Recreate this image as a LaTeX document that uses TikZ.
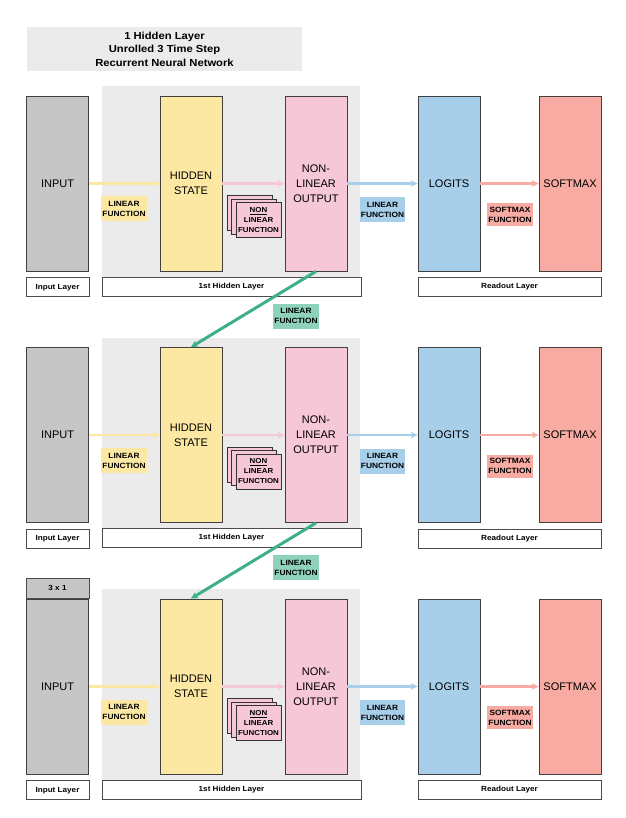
\documentclass[tikz,border=0pt]{standalone}
\usepackage{fontspec}
\setmainfont{Liberation Sans}
\newfontfamily\rnnwide{Liberation Sans}[FakeStretch=1.1]
\usetikzlibrary{arrows.meta, backgrounds, positioning}
\definecolor{inputgray}{HTML}{C6C6C6}
\definecolor{hiddenyellow}{HTML}{FDE8A3}
\definecolor{outpink}{HTML}{F6C7D6}
\definecolor{logitblue}{HTML}{A7CFEA}
\definecolor{softred}{HTML}{F8ABA2}
\definecolor{layergray}{HTML}{EBEBEB}
\definecolor{recurgreen}{HTML}{3FAE8C}
\definecolor{recurlight}{HTML}{8DD2B9}
\tikzset{
  rnnblock/.style={draw=black!75, line width=0.8pt, minimum width=62pt, minimum height=175pt, inner sep=1pt, align=center, font=\fontsize{11}{15}\selectfont},
  rnnlabel/.style={inner sep=1pt, align=center, font=\rnnwide\bfseries\fontsize{7.6}{10}\selectfont, minimum width=44pt, minimum height=25pt},
  rnnlayer/.style={draw=black!70, fill=white, line width=0.7pt, minimum height=19pt, inner sep=0pt, font=\rnnwide\bfseries\fontsize{7.4}{8}\selectfont},
  rnnarrow/.style={-{Stealth[length=7pt, width=7pt]}, line width=2.2pt},
  rnnfun/.style={draw=black!80, fill=outpink, line width=0.6pt, minimum width=45pt, minimum height=35pt, inner sep=0pt, align=center, font=\rnnwide\bfseries\fontsize{7.2}{10}\selectfont},
}

\begin{document}
\begin{tikzpicture}[x=1pt, y=-1pt]
  \useasboundingbox (0,0) rectangle (625,818);

  % Title.
  \node[fill=layergray, minimum width=275pt, minimum height=44pt, align=center, font=\rnnwide\bfseries\fontsize{10.2}{13.5}\selectfont] (title) at (164.5,49) {1 Hidden Layer\\Unrolled 3 Time Step\\Recurrent Neural Network};

  % One row per time step.
  \foreach \r/\oy in {1/0, 2/251.5, 3/503} {
    \fill[layergray] (102,86+\oy) rectangle (360,277+\oy);

    \node[rnnblock, fill=inputgray] (input\r) at (57.5,183.5+\oy) {INPUT};
    \node[rnnblock, fill=hiddenyellow] (hidden\r) at (191,183.5+\oy) {HIDDEN\\STATE};
    \node[rnnblock, fill=outpink] (nonlin\r) at (316,183.5+\oy) {NON-\\LINEAR\\OUTPUT};
    \node[rnnblock, fill=logitblue] (logits\r) at (449,183.5+\oy) {LOGITS};
    \node[rnnblock, fill=softred] (softmax\r) at (570,183.5+\oy) {SOFTMAX};

    % Layer names.
    \node[rnnlayer, minimum width=63pt, below=6pt of input\r] (inlayer\r) {Input Layer};
    \node[rnnlayer, minimum width=259pt] (hidlayer\r) at (231.5,286.5+\oy) {1st Hidden Layer};
    \node[rnnlayer, minimum width=183pt] (readlayer\r) at (509.5,287+\oy) {Readout Layer};

    % Forward edges.
    \draw[rnnarrow, hiddenyellow] (input\r) -- (hidden\r);
    \draw[rnnarrow, outpink] (hidden\r) -- (nonlin\r);
    \draw[rnnarrow, logitblue] (nonlin\r) -- (logits\r);
    \draw[rnnarrow, softred] (logits\r) -- (softmax\r);

    % Edge labels.
    \node[rnnlabel, fill=hiddenyellow] (linin\r) at (124,209+\oy) {LINEAR\\FUNCTION};
    \node[rnnfun] (nlfunA\r) at (249.5,213+\oy) {};
    \node[rnnfun] (nlfunB\r) at (254,216.5+\oy) {};
    \node[rnnfun] (nlfun\r) at (258.5,220+\oy) {\underline{NON}\\LINEAR\\FUNCTION};
    \node[rnnlabel, fill=logitblue] (linout\r) at (382.5,209.5+\oy) {LINEAR\\FUNCTION};
    \node[rnnlabel, fill=softred, minimum height=23pt] (smfun\r) at (510,214.5+\oy) {SOFTMAX\\FUNCTION};
  }

  \node[rnnlayer, fill=inputgray, minimum width=63pt, minimum height=20pt, above=0pt of input3] (shape) {3 x 1};

  % Recurrent edges.
  \draw[rnnarrow, recurgreen, line width=3pt] (nonlin1.south) -- (hidden2.north);
  \draw[rnnarrow, recurgreen, line width=3pt] (nonlin2.south) -- (hidden3.north);
  \node[rnnlabel, fill=recurlight] (recur1) at (296,316) {LINEAR\\FUNCTION};
  \node[rnnlabel, fill=recurlight] (recur2) at (296,567.5) {LINEAR\\FUNCTION};
\end{tikzpicture}
\end{document}
